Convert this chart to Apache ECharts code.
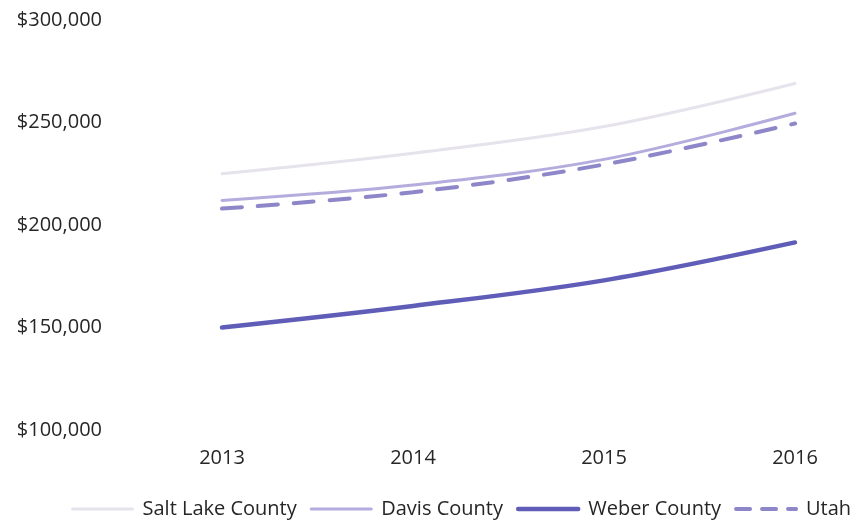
<!DOCTYPE html>
<html>
<head>
<meta charset="utf-8">
<script src="https://cdn.jsdelivr.net/npm/echarts@6/dist/echarts.min.js"></script>
<style>
  html, body { margin: 0; padding: 0; background: #ffffff; }
  #chart { width: 857px; height: 521px; }
</style>
</head>
<body>
<div id="chart"></div>
<script>
// Median home value by county, 2013-2016
const years = ['2013', '2014', '2015', '2016'];
const saltLake = [225000, 235000, 248000, 269000];
const davis = [212000, 219500, 232000, 254500];
const weber = [150000, 160500, 173000, 191500];
const utah = [208000, 216000, 229500, 249500];

const yTicks = { min: 100000, max: 300000, interval: 50000 };
const font = '"Open Sans", "DejaVu Sans", sans-serif';

// Per-series line look, shared by the plot and the legend
const styles = {
  'Salt Lake County': { color: '#e6e3ec', width: 3, type: 'solid' },
  'Davis County': { color: '#b3acdd', width: 3, type: 'solid' },
  'Weber County': { color: '#5f5db8', width: 4.5, type: 'solid' },
  'Utah': { color: '#8d86c8', width: 4, type: [20, 16] }
};

const chart = echarts.init(document.getElementById('chart'), null, { renderer: 'canvas' });

function lineSeries(name, data) {
  const s = styles[name];
  return {
    name: name,
    type: 'line',
    data: data,
    smooth: 0.35,
    symbol: 'none',
    lineStyle: { color: s.color, width: s.width, type: s.type, cap: 'round' },
    itemStyle: { color: s.color }
  };
}

const legendNames = ['Salt Lake County', 'Davis County', 'Weber County', 'Utah'];

chart.setOption({
  animation: false,
  backgroundColor: '#ffffff',
  grid: { left: 222, right: 62, top: 20, bottom: 91 },
  xAxis: {
    type: 'category',
    data: years,
    boundaryGap: false,
    axisLine: { show: false },
    axisTick: { show: false },
    axisLabel: { color: '#262626', fontSize: 20, fontFamily: font, margin: 18 }
  },
  yAxis: {
    type: 'value',
    min: yTicks.min,
    max: yTicks.max,
    interval: yTicks.interval,
    splitLine: { show: false },
    axisLine: { show: false },
    axisTick: { show: false },
    axisLabel: {
      color: '#262626',
      fontSize: 20,
      fontFamily: font,
      margin: 120,
      formatter: v => '$' + v.toLocaleString('en-US')
    }
  },
  legend: {
    top: 494,
    left: 66,
    itemWidth: 60,
    itemHeight: 6,
    itemGap: 13,
    itemStyle: { opacity: 0 },
    textStyle: { color: '#262626', fontSize: 20, fontFamily: font, padding: [0, 0, 0, 5] },
    data: legendNames.map(n => ({
      name: n,
      lineStyle: {
        color: styles[n].color,
        width: styles[n].width,
        type: n === 'Utah' ? [14, 12] : 'solid'
      }
    }))
  },
  series: [
    lineSeries('Salt Lake County', saltLake),
    lineSeries('Davis County', davis),
    lineSeries('Weber County', weber),
    lineSeries('Utah', utah)
  ]
});
</script>
</body>
</html>
